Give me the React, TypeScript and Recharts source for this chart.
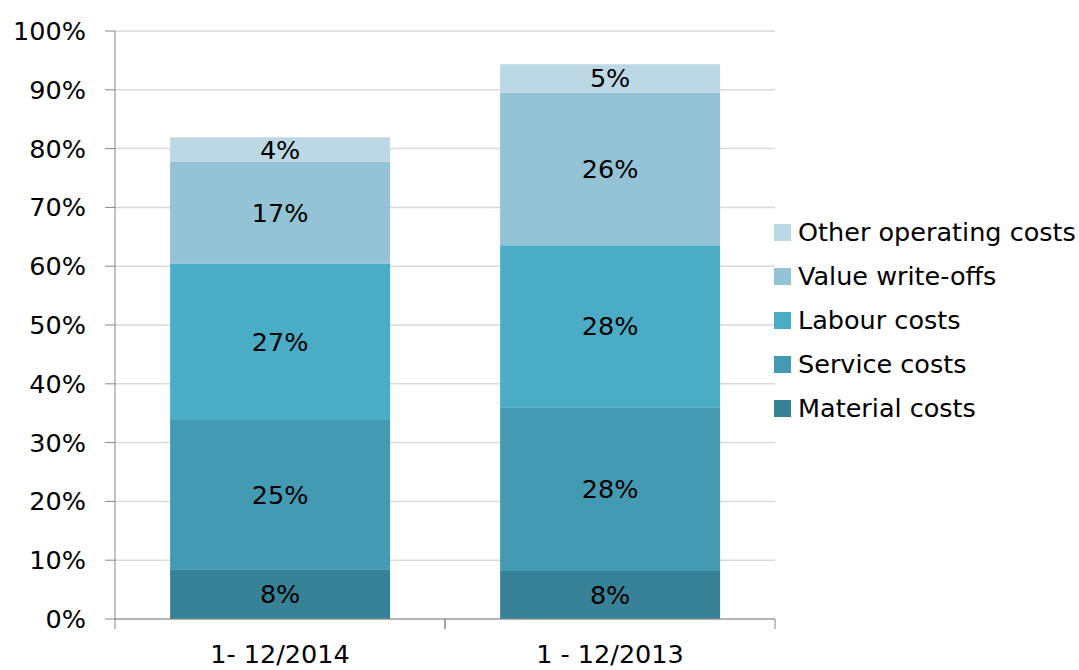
import React from "react";
import {
  Bar,
  BarChart,
  CartesianGrid,
  LabelList,
  XAxis,
  YAxis,
} from "recharts";

const periods = ["1- 12/2014", "1 - 12/2013"];
const materialCosts = [8.45, 8.16];
const serviceCosts = [25.4, 27.85];
const labourCosts = [26.6, 27.55];
const valueWriteOffs = [17.3, 26.0];
const otherCosts = [4.2, 4.8];
const yTicks = [0, 10, 20, 30, 40, 50, 60, 70, 80, 90, 100];

const series = [
  { key: "material", name: "Material costs", color: "#388298", values: materialCosts },
  { key: "service", name: "Service costs", color: "#449AB2", values: serviceCosts },
  { key: "labour", name: "Labour costs", color: "#4BACC6", values: labourCosts },
  { key: "value", name: "Value write-offs", color: "#93C3D5", values: valueWriteOffs },
  { key: "other", name: "Other operating costs", color: "#BCD8E4", values: otherCosts },
];

const data = periods.map((period, i) => {
  const row: Record<string, string | number> = { period };
  series.forEach((s) => {
    row[s.key] = s.values[i];
  });
  return row;
});

const FONT = "'DejaVu Sans', sans-serif";
const FS = 25.5;
const WIDTH = 1079;
const HEIGHT = 670;
const LEFT = 115;
const RIGHT = 304;
const HALF_BAND = (WIDTH - LEFT - RIGHT) / periods.length / 2;

function CategoryTick(props: any) {
  const { x, y, payload } = props;
  return (
    <g>
      <line x1={x - HALF_BAND} x2={x - HALF_BAND} y1={y - 2} y2={y + 8} stroke="#868686" />
      <line x1={x + HALF_BAND} x2={x + HALF_BAND} y1={y - 2} y2={y + 8} stroke="#868686" />
      <text x={x} y={y + 42} textAnchor="middle" fontSize={FS} fontFamily={FONT} fill="#000">
        {payload.value}
      </text>
    </g>
  );
}

function LegendBox() {
  return (
    <div
      style={{
        position: "absolute",
        left: 774,
        top: 210,
        fontFamily: FONT,
        fontSize: FS,
        color: "#000",
        whiteSpace: "nowrap",
      }}
    >
      {[...series].reverse().map((s) => (
        <div key={s.key} style={{ display: "flex", alignItems: "center", height: 44 }}>
          <span style={{ width: 17, height: 17, background: s.color, marginRight: 7 }} />
          <span>{s.name}</span>
        </div>
      ))}
    </div>
  );
}

export default function App() {
  return (
    <div style={{ position: "absolute", left: 0, top: 0, width: WIDTH, height: HEIGHT, background: "#fff" }}>
      <BarChart
        width={WIDTH}
        height={HEIGHT}
        data={data}
        margin={{ top: 31, right: RIGHT, bottom: 0, left: 0 }}
        barCategoryGap="16.7%"
      >
        <CartesianGrid vertical={false} stroke="#d9d9d9" strokeWidth={1.5} />
        <XAxis
          dataKey="period"
          height={51}
          axisLine={{ stroke: "#868686" }}
          tickLine={false}
          tickSize={0}
          tick={<CategoryTick />}
          interval={0}
        />
        <YAxis
          width={LEFT}
          domain={[0, 100]}
          ticks={yTicks}
          tickFormatter={(v: number) => `${v}%`}
          axisLine={{ stroke: "#868686" }}
          tickLine={{ stroke: "#868686" }}
          tickSize={10}
          tickMargin={19}
          tick={{ fill: "#000", fontSize: FS, fontFamily: FONT }}
        />
        {series.map((s) => (
          <Bar
            key={s.key}
            dataKey={s.key}
            name={s.name}
            stackId="a"
            fill={s.color}
            isAnimationActive={false}
          >
            <LabelList
              dataKey={s.key}
              position="center"
              formatter={(v: any) => `${Math.round(Number(v))}%`}
              fill="#000"
              fontSize={FS}
              fontFamily={FONT}
            />
          </Bar>
        ))}
      </BarChart>
      <LegendBox />
    </div>
  );
}
